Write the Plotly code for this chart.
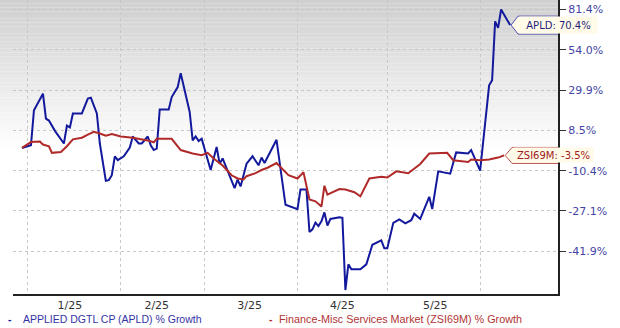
import math
import plotly.graph_objects as go

# ---------------- data ----------------
apld_dates = [
    "2024-12-30", "2025-01-02", "2025-01-03", "2025-01-06", "2025-01-07", "2025-01-08",
    "2025-01-10", "2025-01-13", "2025-01-14", "2025-01-15", "2025-01-16", "2025-01-19",
    "2025-01-21", "2025-01-22", "2025-01-24", "2025-01-25", "2025-01-27", "2025-01-28",
    "2025-01-29", "2025-01-30", "2025-01-31", "2025-02-02", "2025-02-04", "2025-02-05",
    "2025-02-07", "2025-02-08", "2025-02-10", "2025-02-11", "2025-02-12", "2025-02-13",
    "2025-02-14", "2025-02-17", "2025-02-18", "2025-02-20", "2025-02-21", "2025-02-24",
    "2025-02-25", "2025-02-26", "2025-02-27", "2025-02-28", "2025-03-03", "2025-03-05",
    "2025-03-06", "2025-03-07", "2025-03-11", "2025-03-12", "2025-03-13", "2025-03-15",
    "2025-03-17", "2025-03-19", "2025-03-20", "2025-03-21", "2025-03-25", "2025-03-27",
    "2025-03-28", "2025-04-01", "2025-04-02", "2025-04-04", "2025-04-05", "2025-04-06",
    "2025-04-07", "2025-04-08", "2025-04-09", "2025-04-10", "2025-04-11", "2025-04-12",
    "2025-04-15", "2025-04-16", "2025-04-17", "2025-04-18", "2025-04-19", "2025-04-22",
    "2025-04-24", "2025-04-26", "2025-04-29", "2025-04-30", "2025-05-01", "2025-05-03",
    "2025-05-05", "2025-05-07", "2025-05-09", "2025-05-10", "2025-05-12", "2025-05-15",
    "2025-05-16", "2025-05-18", "2025-05-22", "2025-05-24", "2025-05-28", "2025-05-29",
    "2025-06-01", "2025-06-04", "2025-06-05", "2025-06-06", "2025-06-07", "2025-06-08",
    "2025-06-11",
]
apld_growth = [
    0.0, 1.3, 18.9, 27.9, 14.5, 13.5,
    8.3, 2.1, 10.9, 10.0, 17.2, 17.2,
    25.2, 25.7, 17.2, 2.1, -14.8, -14.5,
    -12.4, -3.9, -5.7, -3.9, 0.2, 5.5,
    2.1, 2.1, 5.5, 1.3, -1.0, -0.3,
    19.3, 19.3, 26.0, 31.6, 39.7, 18.0,
    3.6, 5.5, 3.3, 4.4, -10.1, 0.5,
    -7.3, -4.9, -17.9, -14.3, -17.2, -7.3,
    -3.9, -8.0, -4.5, -7.0, 3.9, -14.5,
    -24.7, -26.4, -18.5, -18.5, -35.1, -34.1,
    -31.6, -32.9, -31.1, -27.7, -32.7, -30.2,
    -29.6, -29.8, -54.6, -46.4, -48.0, -48.0,
    -46.4, -39.7, -38.1, -40.9, -40.9, -31.7,
    -30.4, -31.9, -30.7, -28.2, -30.2, -21.5,
    -26.4, -10.7, -11.7, -2.1, -2.6, -1.0,
    -10.4, 32.6, 35.6, 73.0, 68.5, 81.4,
    70.4,
]

zsi_dates = [
    "2024-12-30", "2025-01-02", "2025-01-05", "2025-01-06", "2025-01-08", "2025-01-09",
    "2025-01-12", "2025-01-14", "2025-01-16", "2025-01-19", "2025-01-21", "2025-01-23",
    "2025-01-25", "2025-01-27", "2025-01-29", "2025-02-01", "2025-02-05", "2025-02-10",
    "2025-02-12", "2025-02-13", "2025-02-18", "2025-02-21", "2025-02-25", "2025-02-28",
    "2025-03-02", "2025-03-04", "2025-03-07", "2025-03-10", "2025-03-12", "2025-03-14",
    "2025-03-15", "2025-03-18", "2025-03-20", "2025-03-22", "2025-03-25", "2025-03-27",
    "2025-03-29", "2025-04-01", "2025-04-03", "2025-04-05", "2025-04-07", "2025-04-09",
    "2025-04-10", "2025-04-11", "2025-04-15", "2025-04-17", "2025-04-20", "2025-04-22",
    "2025-04-25", "2025-04-29", "2025-05-01", "2025-05-04", "2025-05-08", "2025-05-12",
    "2025-05-15", "2025-05-21", "2025-05-23", "2025-05-28", "2025-05-29", "2025-06-01",
    "2025-06-04", "2025-06-07", "2025-06-09",
]
zsi_growth = [
    0.0, 2.8, 3.1, 1.6, 0.8, -2.3,
    -1.9, 0.8, 4.1, 4.9, 6.4, 7.8,
    7.0, 5.9, 6.7, 5.5, 4.9, 3.6,
    2.7, 4.4, 4.4, -1.0, -2.6, -3.4,
    -2.3, -4.9, -8.1, -12.4, -13.8, -14.2,
    -12.8, -11.5, -10.1, -9.1, -7.0, -9.6,
    -12.4, -13.8, -11.1, -22.6, -23.3, -25.4,
    -16.9, -20.6, -18.3, -18.5, -19.6, -21.3,
    -13.8, -13.1, -13.4, -10.7, -11.5, -7.4,
    -2.6, -2.3, -5.7, -6.5, -5.4, -5.7,
    -5.4, -4.5, -3.5,
]

y_ticks = [81.4, 54.0, 29.9, 8.5, -10.4, -27.1, -41.9]
y_tick_labels = ["81.4%", "54.0%", "29.9%", "8.5%", "-10.4%", "-27.1%", "-41.9%"]
x_tick_dates = ["2025-01-15", "2025-02-13", "2025-03-16", "2025-04-16", "2025-05-17"]
x_tick_labels = ["1/25", "2/25", "3/25", "4/25", "5/25"]
month_starts = ["2025-01-01", "2025-02-01", "2025-03-01", "2025-04-01", "2025-05-01", "2025-06-01"]

apld_name = "APPLIED DGTL CP (APLD) % Growth"
zsi_name = "Finance-Misc Services Market (ZSI69M) % Growth"

# The chart's value axis is logarithmic in (growth + OFFSET)
OFFSET = 155.8


def tr(vals):
    return [v + OFFSET for v in vals]


BLUE = "#13199c"
RED = "#b02a2a"
TAG_BG = "#fffbe8"

fig = go.Figure()
fig.add_trace(go.Scatter(x=apld_dates, y=tr(apld_growth), mode="lines",
                         line=dict(color=BLUE, width=2), name=apld_name,
                         showlegend=False))
fig.add_trace(go.Scatter(x=zsi_dates, y=tr(zsi_growth), mode="lines",
                         line=dict(color=RED, width=2), name=zsi_name,
                         showlegend=False))

W, H = 620, 328
L, R, T, B = 13, 62, 0, 34
plot_h = H - T - B
plot_w = W - L - R

shapes = []
# gradient background at top of plot area
N = 40
fade_px = 150
for i in range(N):
    y0 = fade_px * i / N
    y1 = fade_px * (i + 1) / N
    t = (i + 0.5) / N
    c = int(round(207 + (255 - 207) * t))
    shapes.append(dict(type="rect", xref="paper", yref="paper",
                       x0=-L / plot_w, x1=1, y0=1 - y1 / plot_h, y1=1 - y0 / plot_h,
                       fillcolor=f"rgb({c},{c},{c})", line=dict(width=0),
                       layer="below"))

# callout tags
apld_last_x, apld_last_y = apld_dates[-1], apld_growth[-1]
zsi_last_x, zsi_last_y = zsi_dates[-1], zsi_growth[-1]
shapes.append(dict(type="path", xref="x", yref="y", xsizemode="pixel", ysizemode="pixel",
                   xanchor=apld_last_x, yanchor=apld_last_y + OFFSET,
                   path="M 1 0 L 8 9 L 86 9 L 86 -9 L 8 -9 Z",
                   fillcolor=TAG_BG, line=dict(color="#5050b0", width=1), layer="above"))
shapes.append(dict(type="path", xref="x", yref="y", xsizemode="pixel", ysizemode="pixel",
                   xanchor=zsi_last_x, yanchor=zsi_last_y + OFFSET,
                   path="M 1 0 L 8 8 L 88 8 L 88 -8 L 8 -8 Z",
                   fillcolor=TAG_BG, line=dict(color="#c05050", width=1), layer="above"))

annotations = [
    dict(x=apld_last_x, y=math.log10(apld_last_y + OFFSET), xref="x", yref="y",
         text=f"APLD: {apld_last_y:.1f}%", showarrow=False, xanchor="left", xshift=8.5,
         yanchor="middle", width=77, height=16, borderpad=0, bgcolor=TAG_BG,
         align="center", valign="middle",
         font=dict(family="DejaVu Sans", size=10, color="#1e1e78")),
    dict(x=zsi_last_x, y=math.log10(zsi_last_y + OFFSET), xref="x", yref="y",
         text=f"ZSI69M: {zsi_last_y:.1f}%", showarrow=False, xanchor="left", xshift=8.5,
         yanchor="middle", width=79, height=14, borderpad=0, bgcolor=TAG_BG,
         align="center", valign="middle",
         font=dict(family="DejaVu Sans", size=10, color="#a02020")),
]

# legend (drawn as text items below the axis)
leg_y = -(319 - (H - B)) / plot_h
for px, txt, col, fs in [(6, "<b>-</b>", BLUE, 10.5), (21, apld_name, "#3434a4", 10.5),
                         (267, "<b>-</b>", RED, 10.5), (277, zsi_name, "#b03434", 10.8)]:
    annotations.append(dict(x=(px - L) / plot_w, y=leg_y, xref="paper", yref="paper",
                            xanchor="left", yanchor="middle", showarrow=False, text=txt,
                            font=dict(family="Liberation Sans", size=fs, color=col)))

fig.update_layout(
    template="none",
    width=W, height=H,
    margin=dict(l=L, r=R, t=T, b=B, autoexpand=False),
    paper_bgcolor="white", plot_bgcolor="white",
    shapes=shapes, annotations=annotations,
    showlegend=False,
    xaxis=dict(
        type="date", range=["2024-12-27", "2025-06-27"], automargin=False,
        tickmode="array", tickvals=x_tick_dates, ticktext=x_tick_labels,
        showgrid=False, ticks="", zeroline=False,
        showline=True, linecolor="#222222", linewidth=2,
        tickfont=dict(family="DejaVu Sans", size=11, color="#333333"),
        minor=dict(tickvals=month_starts, showgrid=True, gridcolor="#c8c8c8",
                   griddash="dot", gridwidth=1, ticks=""),
    ),
    yaxis=dict(
        type="log", side="right", automargin=False,
        range=[2.0, 2.3876],
        tickmode="array", tickvals=tr(y_ticks), ticktext=y_tick_labels,
        showgrid=True, gridcolor="#c8c8c8", griddash="dot", gridwidth=1,
        zeroline=False,
        showline=True, linecolor="#222222", linewidth=2,
        ticks="outside", ticklen=6, tickwidth=1, tickcolor="#333333",
        tickfont=dict(family="DejaVu Sans", size=11, color="#4545a5"),
    ),
)

fig.write_html("out.html")
